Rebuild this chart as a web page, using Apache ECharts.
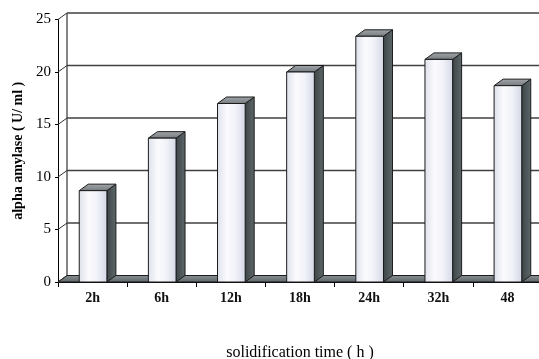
<!DOCTYPE html>
<html>
<head>
<meta charset="utf-8">
<script src="https://cdn.jsdelivr.net/npm/echarts@6/dist/echarts.min.js"></script>
<style>
  html, body { margin: 0; padding: 0; background: #fff; }
  #chart { width: 539px; height: 359px; }
</style>
</head>
<body>
<div id="chart"></div>
<script>
// Alpha-amylase activity by solidification time
const categories = ['2h', '6h', '12h', '18h', '24h', '32h', '48'];
const amylase = [8.7, 13.7, 17.0, 20.0, 23.4, 21.2, 18.7];
const yTicks = [0, 5, 10, 15, 20, 25];

// depth offset of the pseudo-3D box (back wall relative to front plane)
const DX = 9, DY = -6.5;
const SERIF = '"Liberation Serif", "Times New Roman", serif';
const EDGE = '#1b1b1b';

const chart = echarts.init(document.getElementById('chart'), null, { renderer: 'canvas' });

// Back wall gridlines, left wall edges and the floor
function renderWalls(params, api) {
  const cs = params.coordSys;
  const left = cs.x, right = cs.x + cs.width;
  const v = api.value(1);
  const y = api.coord([0, v])[1];
  const children = [];
  if (v === 0) {
    const yTop = api.coord([0, yTicks[yTicks.length - 1]])[1];
    children.push({
      type: 'polygon',
      shape: { points: [[left, y], [right, y], [right + DX, y + DY], [left + DX, y + DY]] },
      style: {
        fill: new echarts.graphic.LinearGradient(0, 0, 0, 1, [
          { offset: 0, color: '#8a9093' },
          { offset: 1, color: '#5d6467' }
        ]),
        stroke: EDGE, lineWidth: 1
      }
    });
    children.push({
      type: 'line',
      shape: { x1: left + DX, y1: y + DY, x2: left + DX, y2: yTop + DY },
      style: { stroke: '#333', lineWidth: 1.2 }
    });
  } else {
    children.push({
      type: 'line',
      shape: { x1: left + DX, y1: y + DY, x2: right + DX, y2: y + DY },
      style: { stroke: '#404040', lineWidth: 1.3 }
    });
  }
  children.push({
    type: 'line',
    shape: { x1: left, y1: y, x2: left + DX, y2: y + DY },
    style: { stroke: '#333', lineWidth: 1 }
  });
  return { type: 'group', children: children };
}

// Box-shaped columns: front face, right side and top
function renderBar(params, api) {
  const idx = api.value(0), v = api.value(1);
  const top = api.coord([idx, v]);
  const bot = api.coord([idx, 0]);
  const w = api.size([1, 0])[0] * 0.40;
  const cx = top[0] + 0.5;
  const x1 = cx - w / 2, x2 = cx + w / 2;
  const yT = top[1], y0 = bot[1];
  return {
    type: 'group',
    children: [
      {
        type: 'polygon',
        shape: { points: [[x2, yT], [x2 + DX, yT + DY], [x2 + DX, y0 + DY], [x2, y0]] },
        style: {
          fill: new echarts.graphic.LinearGradient(0, 0, 1, 0, [
            { offset: 0, color: '#3b4345' },
            { offset: 1, color: '#5f686b' }
          ]),
          stroke: EDGE, lineWidth: 1
        }
      },
      {
        type: 'polygon',
        shape: { points: [[x1, yT], [x2, yT], [x2 + DX, yT + DY], [x1 + DX, yT + DY]] },
        style: {
          fill: new echarts.graphic.LinearGradient(0, 1, 0, 0, [
            { offset: 0, color: '#74797d' },
            { offset: 1, color: '#a4a8ac' }
          ]),
          stroke: EDGE, lineWidth: 1
        }
      },
      {
        type: 'rect',
        shape: { x: x1, y: yT, width: w, height: y0 - yT },
        style: {
          fill: new echarts.graphic.LinearGradient(0, 0, 1, 0, [
            { offset: 0, color: '#dde1ec' },
            { offset: 0.35, color: '#fbfbfd' },
            { offset: 0.65, color: '#f1f2f8' },
            { offset: 1, color: '#d3d7e6' }
          ]),
          stroke: EDGE, lineWidth: 1
        }
      }
    ]
  };
}

chart.setOption({
  animation: false,
  backgroundColor: '#fff',
  grid: { left: 58, right: -3, top: 19.5, bottom: 77, containLabel: false, outerBoundsMode: 'none' },
  xAxis: {
    type: 'category',
    data: categories,
    boundaryGap: true,
    axisLine: { show: true, lineStyle: { color: '#000', width: 1 } },
    axisTick: { show: true, length: 5, lineStyle: { color: '#000' } },
    axisLabel: { fontFamily: SERIF, fontSize: 14, fontWeight: 'bold', color: '#111', margin: 9 },
    splitLine: { show: false },
    name: 'solidification time ( h )',
    nameLocation: 'middle',
    nameGap: 63,
    nameTextStyle: { fontFamily: SERIF, fontSize: 16, color: '#000' }
  },
  yAxis: {
    type: 'value',
    min: 0, max: 25, interval: 5,
    axisLine: { show: true, lineStyle: { color: '#000', width: 1 } },
    axisTick: { show: true, length: 3, lineStyle: { color: '#000' } },
    axisLabel: { fontFamily: SERIF, fontSize: 15, color: '#000', margin: 7 },
    splitLine: { show: false },
    name: 'alpha amylase ( U/ ml )',
    nameLocation: 'middle',
    nameRotate: 90,
    nameGap: 29,
    nameTextStyle: { fontFamily: SERIF, fontSize: 14, fontWeight: 'bold', color: '#000' }
  },
  series: [
    {
      type: 'custom',
      clip: false,
      z: 1,
      silent: true,
      renderItem: renderWalls,
      data: yTicks.map(v => [0, v])
    },
    {
      type: 'custom',
      clip: false,
      z: 2,
      renderItem: renderBar,
      data: amylase.map((v, i) => [i, v])
    }
  ]
});
</script>
</body>
</html>
